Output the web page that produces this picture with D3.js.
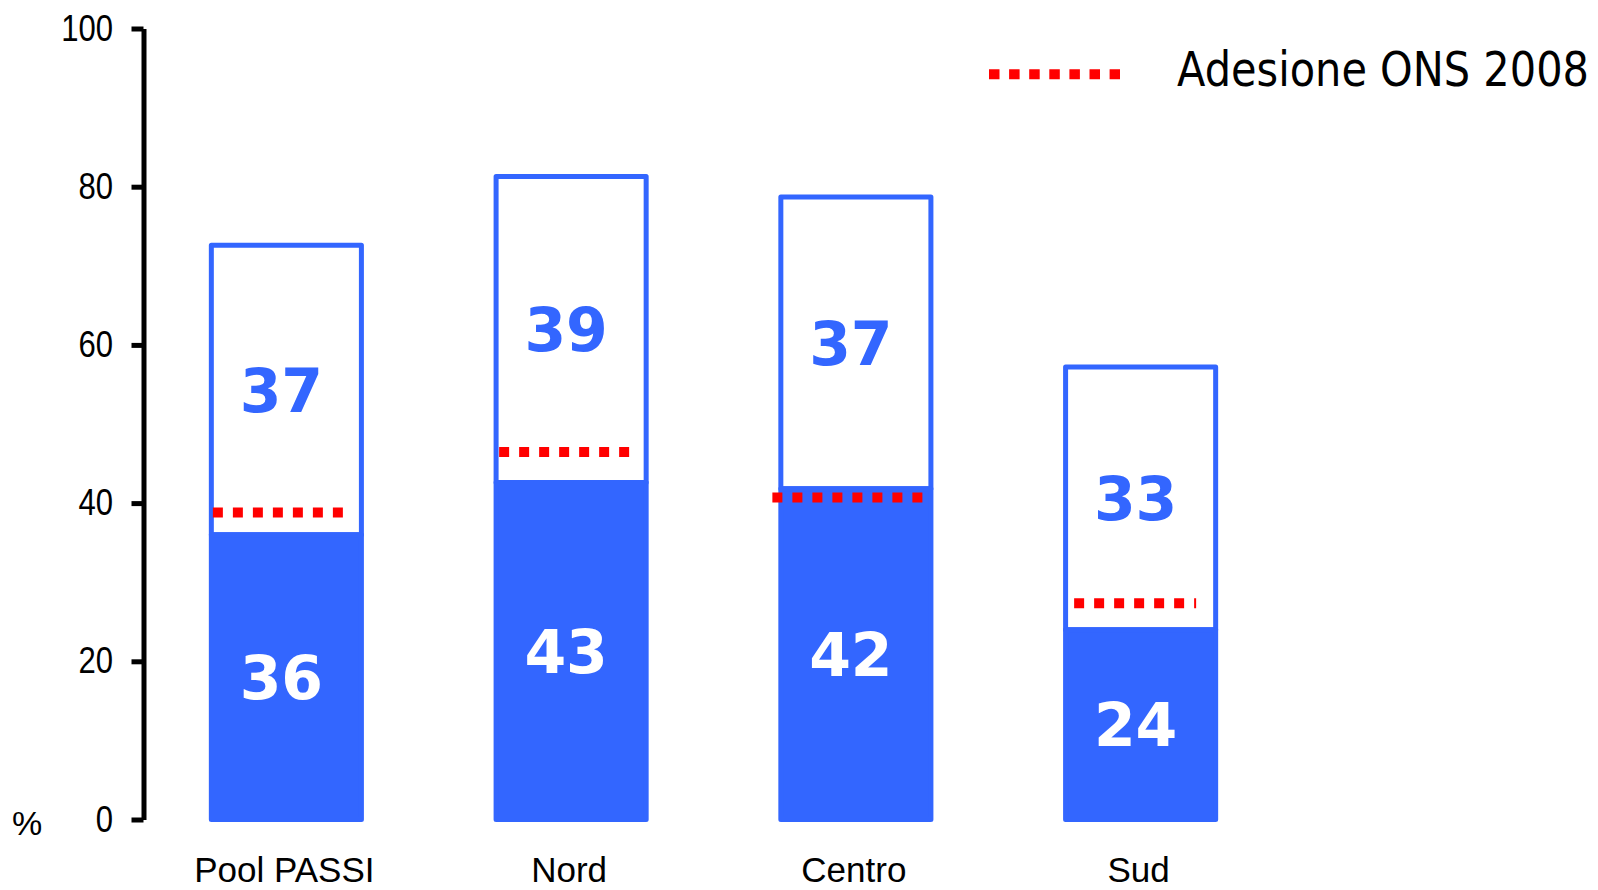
<!DOCTYPE html>
<html>
<head>
<meta charset="utf-8">
<script src="https://cdn.jsdelivr.net/npm/d3@7"></script>
<style>
  html, body { margin: 0; padding: 0; background: #fff; }
  svg { display: block; }
</style>
</head>
<body>
<svg id="chart" width="1598" height="890"></svg>
<script>
// ---- data ----
const categories = ["Pool PASSI", "Nord", "Centro", "Sud"];
const lowerValues = [36, 42.6, 41.8, 24];     // filled segment
const upperValues = [36.6, 38.7, 36.9, 33.2]; // outlined segment
const targetONS = [38.8, 46.45, 40.7, 27.35]; // Adesione ONS 2008
const yTicks = [0, 20, 40, 60, 80, 100];
const legendLabel = "Adesione ONS 2008";
const yUnit = "%";

// ---- layout (px, not data) ----
const targetSpan = [[-73.5, 130], [-72, 131], [-83.5, 150], [-66.5, 122]];
const BLUE = "#3366ff", RED = "#ff0000";

const svg = d3.select("#chart");
const x = d3.scaleBand().domain(categories).range([144, 1283]).paddingInner(0.473).paddingOuter(0.2365);
const y = d3.scaleLinear().domain([0, 100]).range([819.5, 28.5]);

// bars
const bars = svg.append("g");
categories.forEach((c, i) => {
  const x0 = x(c), w = x.bandwidth();
  const lo = lowerValues[i], hi = lowerValues[i] + upperValues[i];
  bars.append("rect")
    .attr("x", x0).attr("y", y(hi)).attr("width", w).attr("height", y(lo) - y(hi))
    .attr("fill", "#fff").attr("stroke", BLUE).attr("stroke-width", 5).attr("stroke-linejoin", "round");
  bars.append("rect")
    .attr("x", x0).attr("y", y(lo)).attr("width", w).attr("height", y(0) - y(lo))
    .attr("fill", BLUE).attr("stroke", BLUE).attr("stroke-width", 5).attr("stroke-linejoin", "round");
});

// target dotted lines
categories.forEach((c, i) => {
  const cx = x(c) + x.bandwidth() / 2;
  const [off, len] = targetSpan[i];
  svg.append("line")
    .attr("x1", cx + off).attr("x2", cx + off + len)
    .attr("y1", y(targetONS[i])).attr("y2", y(targetONS[i]))
    .attr("stroke", RED).attr("stroke-width", 10).attr("stroke-dasharray", "10,10");
});

// value labels
categories.forEach((c, i) => {
  const cx = x(c) + x.bandwidth() / 2 - 5;
  const lo = lowerValues[i], up = upperValues[i];
  const fs = 60;
  svg.append("text")
    .attr("x", cx).attr("y", y(lo / 2) + 0.365 * fs)
    .attr("text-anchor", "middle")
    .attr("font-family", "DejaVu Sans").attr("font-weight", "bold").attr("font-size", fs)
    .attr("fill", "#fff").text(Math.round(lo));
  svg.append("text")
    .attr("x", cx).attr("y", y(lo + up / 2) + 0.365 * fs)
    .attr("text-anchor", "middle")
    .attr("font-family", "DejaVu Sans").attr("font-weight", "bold").attr("font-size", fs)
    .attr("fill", BLUE).text(Math.round(up));
});

// y axis
const yAxis = d3.axisLeft(y).tickValues(yTicks).tickSize(12).tickSizeOuter(0).tickFormat(d3.format("d"));
const ga = svg.append("g").attr("transform", "translate(143.5,0)").call(yAxis);
ga.select(".domain").attr("stroke", "#000").attr("stroke-width", 5);
ga.selectAll(".tick line").attr("stroke", "#000").attr("stroke-width", 5);
ga.selectAll(".tick text")
  .attr("x", null).attr("dy", null)
  .attr("transform", "translate(-30.5,11.5) scale(0.84,1)")
  .attr("font-family", "Liberation Sans, Arial, sans-serif").attr("font-size", 37)
  .attr("fill", "#000").attr("text-anchor", "end");

// unit
svg.append("text").attr("x", 12).attr("y", 835)
  .attr("font-family", "Liberation Sans, Arial, sans-serif").attr("font-size", 34)
  .attr("fill", "#000").text(yUnit);

// x labels
categories.forEach((c) => {
  svg.append("text")
    .attr("x", x(c) + x.bandwidth() / 2 - 2).attr("y", 882)
    .attr("text-anchor", "middle")
    .attr("font-family", "Liberation Sans, Arial, sans-serif").attr("font-size", 35)
    .attr("fill", "#000").text(c);
});

// legend
svg.append("line").attr("x1", 989).attr("x2", 1120).attr("y1", 74.3).attr("y2", 74.3)
  .attr("stroke", RED).attr("stroke-width", 10).attr("stroke-dasharray", "10.5,9.6");
svg.append("text")
  .attr("transform", "translate(1177,86) scale(1,1.17)")
  .attr("font-family", "DejaVu Sans").attr("font-size", 41.5)
  .attr("textLength", 412).attr("lengthAdjust", "spacingAndGlyphs")
  .attr("fill", "#000").text(legendLabel);
</script>
</body>
</html>
